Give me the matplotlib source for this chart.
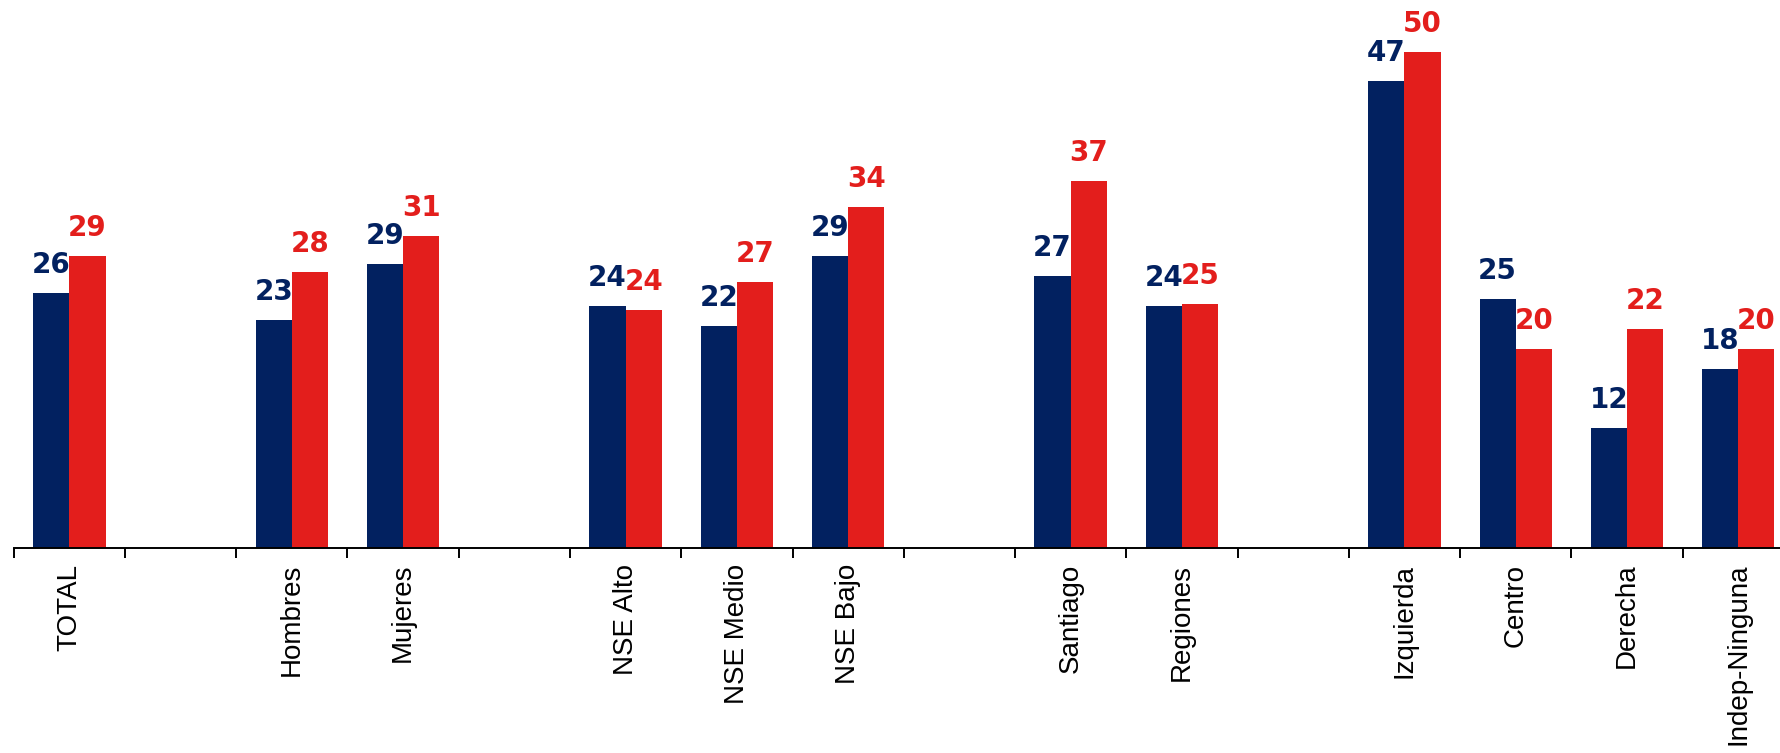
import numpy as np
import matplotlib
matplotlib.use("Agg")
import matplotlib.pyplot as plt

# categories, with "" marking the empty slots between groups
categories = ["TOTAL", "", "Hombres", "Mujeres", "", "NSE Alto", "NSE Medio",
              "NSE Bajo", "", "Santiago", "Regiones", "", "Izquierda", "Centro",
              "Derecha", "Indep-Ninguna"]
serie_azul = [25.7, None, 23.0, 28.6, None, 24.4, 22.4, 29.4, None, 27.4, 24.4,
              None, 47.0, 25.1, 12.1, 18.1]
serie_roja = [29.4, None, 27.8, 31.4, None, 24.0, 26.8, 34.4, None, 37.0, 24.6,
              None, 50.0, 20.1, 22.1, 20.1]

azul = "#022160"
rojo = "#E31E1C"

fig = plt.figure(figsize=(17.81, 7.53), dpi=100)
ax = fig.add_axes([0.0077, 0.2716, 0.9995, 0.726])

x = np.arange(len(categories))
w = 0.325
idx = [i for i, v in enumerate(serie_azul) if v is not None]
va = [serie_azul[i] for i in idx]
vr = [serie_roja[i] for i in idx]
xi = x[idx]

b1 = ax.bar(xi - w / 2, va, w, color=azul)
b2 = ax.bar(xi + w / 2, vr, w, color=rojo)

for bars, col in ((b1, azul), (b2, rojo)):
    for b in bars:
        h = b.get_height()
        ax.annotate("{:.0f}".format(h), (b.get_x() + b.get_width() / 2, h),
                    xytext=(0, 10), textcoords="offset points",
                    ha="center", va="bottom", color=col,
                    fontsize=20, fontweight="bold", family="DejaVu Sans")

ax.set_xlim(-0.5, len(categories) - 0.5)
ax.set_ylim(0, 55)

for s in ("top", "right", "left"):
    ax.spines[s].set_visible(False)
ax.spines["bottom"].set_linewidth(1.4)
ax.set_yticks([])

ax.set_xticks(x)
ax.set_xticklabels(categories, rotation=90, fontsize=20, family="Liberation Sans",
                   va="top")
ax.tick_params(axis="x", which="major", length=0, pad=11)
ax.set_xticks(np.arange(len(categories) + 1) - 0.5, minor=True)
ax.tick_params(axis="x", which="minor", length=7, width=1.4, direction="out")

fig.savefig("out.png", dpi=100)
